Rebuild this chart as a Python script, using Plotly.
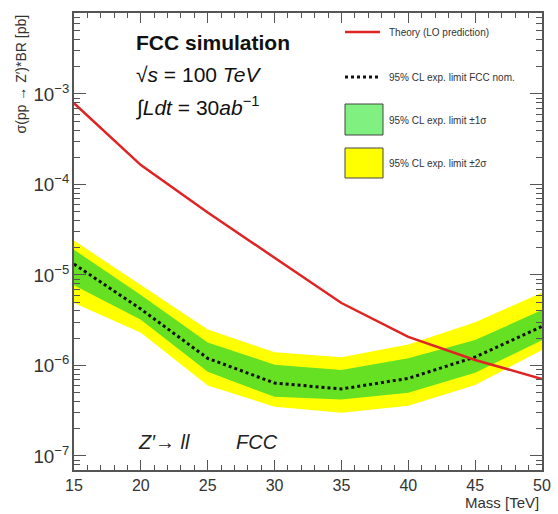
import plotly.graph_objects as go

# ---- data ----
mass = [15, 20, 25, 30, 35, 40, 45, 50]
theory = [7.9e-4, 1.64e-4, 4.9e-5, 1.55e-5, 4.9e-6, 2.07e-6, 1.15e-6, 7.1e-7]
expected = [1.32e-5, 4.2e-6, 1.2e-6, 6.4e-7, 5.5e-7, 7.2e-7, 1.24e-6, 2.7e-6]
green_hi = [1.9e-5, 6.0e-6, 1.8e-6, 1.02e-6, 8.9e-7, 1.2e-6, 1.91e-6, 4.1e-6]
green_lo = [7.7e-6, 3.2e-6, 8.5e-7, 4.5e-7, 4.2e-7, 5.0e-7, 8.3e-7, 1.9e-6]
yellow_hi = [2.4e-5, 7.8e-6, 2.5e-6, 1.4e-6, 1.23e-6, 1.7e-6, 3.0e-6, 6.4e-6]
yellow_lo = [4.9e-6, 2.3e-6, 6.0e-7, 3.5e-7, 3.0e-7, 3.6e-7, 6.1e-7, 1.48e-6]

legend_labels = ["Theory (LO prediction)", "95% CL exp. limit FCC nom.",
                 "95% CL exp. limit \u00b11\u03c3", "95% CL exp. limit \u00b12\u03c3"]

YELLOW = "#ffff00"
GREEN = "#66e022"
RED = "#e02424"
FONT = "Liberation Sans, Arial, sans-serif"

fig = go.Figure()
fig.add_trace(go.Scatter(x=mass + mass[::-1], y=yellow_hi + yellow_lo[::-1],
                         fill="toself", fillcolor=YELLOW, line=dict(width=0),
                         mode="lines", hoverinfo="skip", showlegend=False))
fig.add_trace(go.Scatter(x=mass + mass[::-1], y=green_hi + green_lo[::-1],
                         fill="toself", fillcolor=GREEN, line=dict(width=0),
                         mode="lines", hoverinfo="skip", showlegend=False))
fig.add_trace(go.Scatter(x=mass, y=expected, mode="lines",
                         line=dict(color="#111111", width=3, dash="dot"), showlegend=False))
fig.add_trace(go.Scatter(x=mass, y=theory, mode="lines",
                         line=dict(color=RED, width=2.5), showlegend=False))

L, R, T, B = 74, 16, 13, 44
W, H = 558, 514
PW, PH = W - L - R, H - T - B


def px(x):
    return (x - L) / PW


def py(y):
    return (T + PH - y) / PH


shapes = [
    dict(type="line", xref="paper", yref="paper", x0=px(345), x1=px(380), y0=py(32), y1=py(32),
         line=dict(color=RED, width=2.5)),
    dict(type="line", xref="paper", yref="paper", x0=px(345), x1=px(378), y0=py(77), y1=py(77),
         line=dict(color="#111111", width=3, dash="dot")),
    dict(type="rect", xref="paper", yref="paper", x0=px(345), x1=px(383), y0=py(135), y1=py(104),
         fillcolor="#80f080", line=dict(color="#444444", width=1)),
    dict(type="rect", xref="paper", yref="paper", x0=px(345), x1=px(383), y0=py(178), y1=py(148),
         fillcolor=YELLOW, line=dict(color="#444444", width=1)),
]

annotations = []
for lab, yy in zip(legend_labels, [32, 77, 120, 163]):
    annotations.append(dict(text=lab, xref="paper", yref="paper", x=px(387), y=py(yy),
                            xanchor="left", yanchor="middle", showarrow=False,
                            font=dict(family=FONT, size=10, color="#333333")))

annotations += [
    dict(text="<b>FCC simulation</b>", xref="paper", yref="paper", x=px(134), y=py(42),
         xanchor="left", yanchor="middle", showarrow=False,
         font=dict(family=FONT, size=21, color="#111111")),
    dict(text="\u221a<i>s</i> = 100 <i>TeV</i>", xref="paper", yref="paper", x=px(134), y=py(74),
         xanchor="left", yanchor="middle", showarrow=False,
         font=dict(family=FONT, size=21, color="#111111")),
    dict(text="\u222b<i>Ldt</i> = 30<i>ab</i><sup>\u22121</sup>", xref="paper", yref="paper",
         x=px(134), y=py(106), xanchor="left", yanchor="middle", showarrow=False,
         font=dict(family=FONT, size=21, color="#111111")),
    dict(text="<i>Z\u2032\u2192 ll</i>", xref="paper", yref="paper", x=px(136), y=py(442),
         xanchor="left", yanchor="middle", showarrow=False,
         font=dict(family=FONT, size=20, color="#222222")),
    dict(text="<i>FCC</i>", xref="paper", yref="paper", x=px(234), y=py(442),
         xanchor="left", yanchor="middle", showarrow=False,
         font=dict(family=FONT, size=20, color="#222222")),
    dict(text="\u03c3(pp \u2192 Z\u2032)*BR [pb]", xref="paper", yref="paper", x=px(20), y=1.0,
         xanchor="center", yanchor="top", textangle=-90, showarrow=False,
         font=dict(family=FONT, size=14, color="#333333")),
    dict(text="Mass [TeV]", xref="paper", yref="paper", x=px(541), y=py(502),
         xanchor="right", yanchor="middle", showarrow=False,
         font=dict(family=FONT, size=15, color="#333333")),
]

fig.update_layout(
    width=W, height=H,
    margin=dict(l=L, r=R, t=T, b=B, pad=0, autoexpand=False),
    paper_bgcolor="white", plot_bgcolor="white",
    shapes=shapes, annotations=annotations, showlegend=False,
    font=dict(family=FONT, color="#333333"),
)
fig.update_xaxes(range=[15, 50], dtick=5, tick0=15, ticks="inside", ticklen=10, tickwidth=1,
                 tickcolor="#555555", showline=True, linecolor="#555555", linewidth=1.5,
                 mirror="ticks", showgrid=False, zeroline=False, automargin=False,
                 tickfont=dict(family=FONT, size=16, color="#333333"),
                 minor=dict(ticks="inside", ticklen=5, dtick=1, tickcolor="#555555", showgrid=False))
fig.update_yaxes(type="log", range=[-7.155, -2.105], dtick=1, ticks="inside", ticklen=12,
                 tickwidth=1, tickcolor="#555555", showline=True, linecolor="#555555",
                 linewidth=1.5, mirror="ticks", showgrid=False, zeroline=False, automargin=False,
                 exponentformat="power", showexponent="all",
                 tickfont=dict(family=FONT, size=15, color="#333333"),
                 minor=dict(ticks="inside", ticklen=6, dtick="D1", tickcolor="#555555",
                            showgrid=False))

fig.write_html("out.html", config={"displayModeBar": False},
               post_script="document.body.style.margin='0';document.body.style.padding='0';")
